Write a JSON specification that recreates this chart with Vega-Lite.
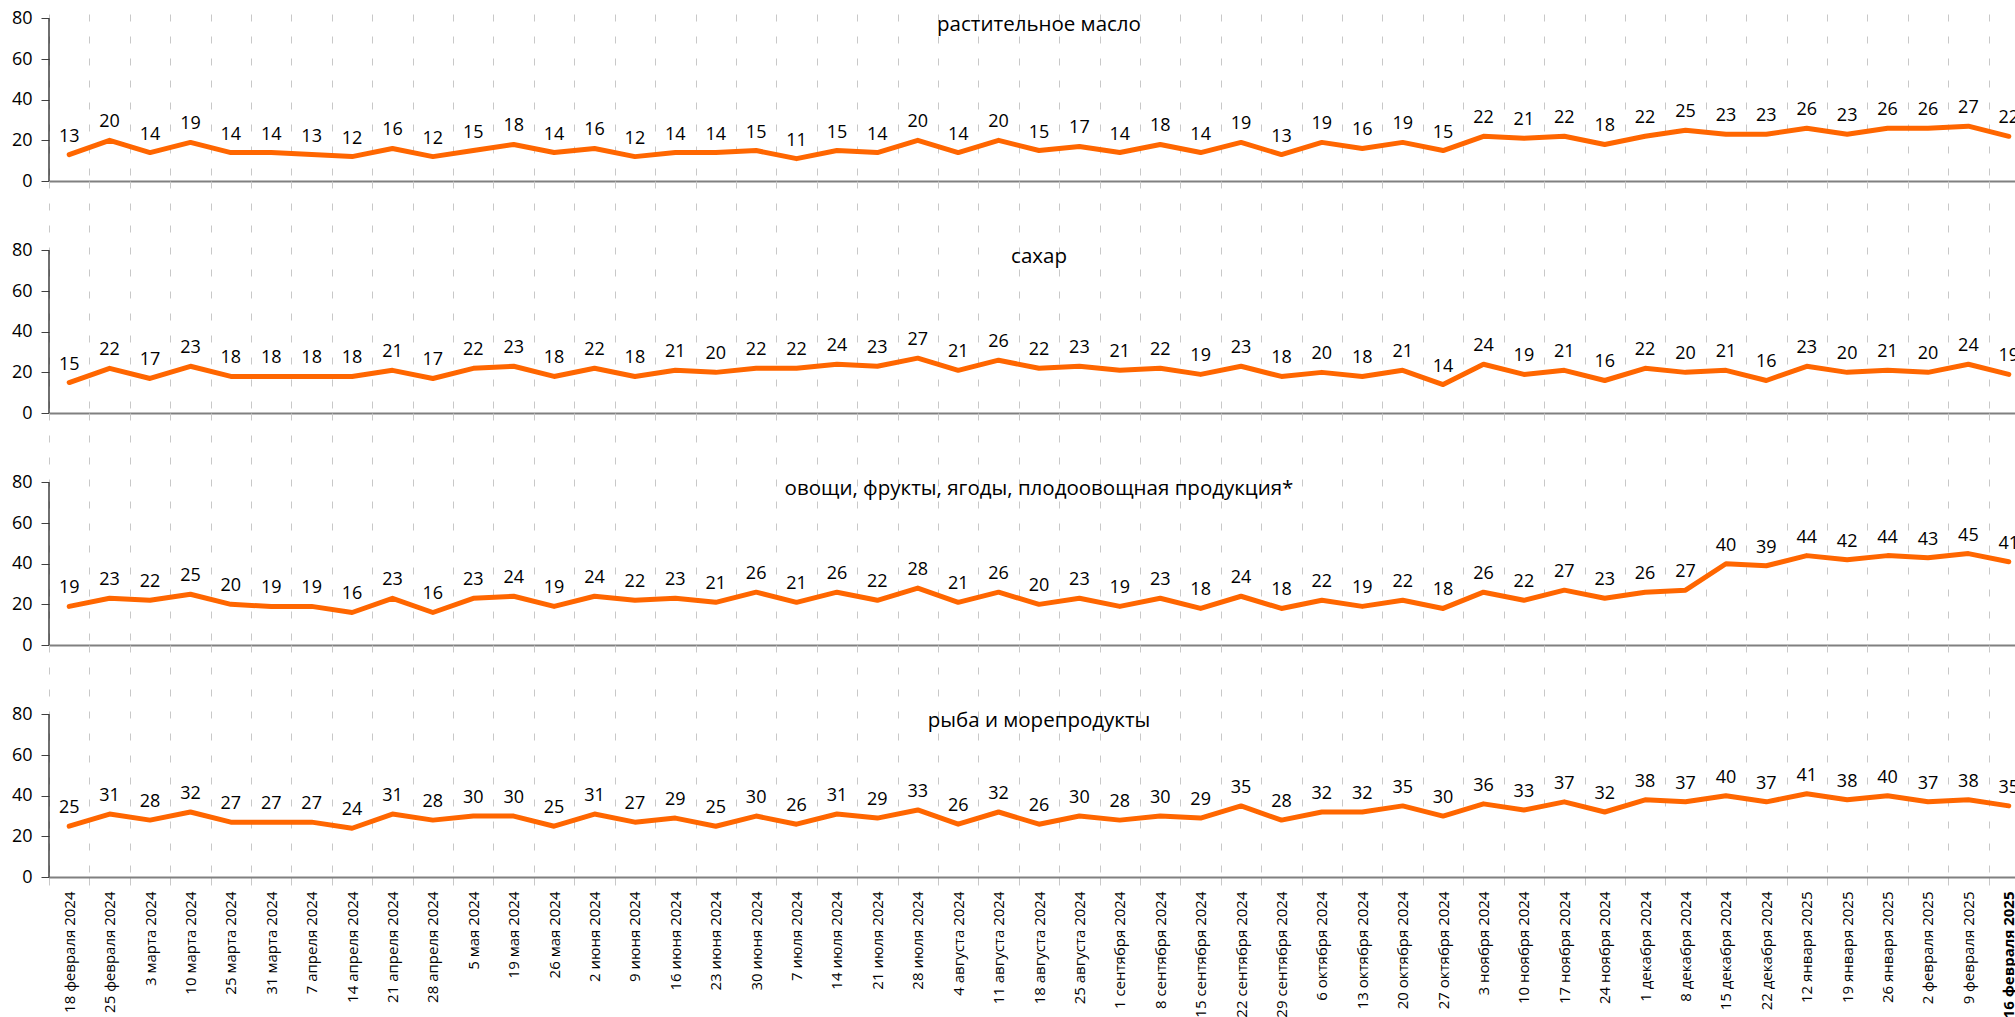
{
  "$schema": "https://vega.github.io/schema/vega-lite/v6.json",
  "background": "white",
  "padding": {"left": 11, "top": 9, "right": 0, "bottom": 0},
  "bounds": "flush",
  "spacing": 0,
  "config": {
    "view": {"stroke": null},
    "font": "Open Sans",
    "text": {"font": "Open Sans"}
  },
  "data": {
    "values": [
      {"d": "18 февраля 2024", "масло": 13, "сахар": 15, "овощи": 19, "рыба": 25},
      {"d": "25 февраля 2024", "масло": 20, "сахар": 22, "овощи": 23, "рыба": 31},
      {"d": "3 марта 2024", "масло": 14, "сахар": 17, "овощи": 22, "рыба": 28},
      {"d": "10 марта 2024", "масло": 19, "сахар": 23, "овощи": 25, "рыба": 32},
      {"d": "25 марта 2024", "масло": 14, "сахар": 18, "овощи": 20, "рыба": 27},
      {"d": "31 марта 2024", "масло": 14, "сахар": 18, "овощи": 19, "рыба": 27},
      {"d": "7 апреля 2024", "масло": 13, "сахар": 18, "овощи": 19, "рыба": 27},
      {"d": "14 апреля 2024", "масло": 12, "сахар": 18, "овощи": 16, "рыба": 24},
      {"d": "21 апреля 2024", "масло": 16, "сахар": 21, "овощи": 23, "рыба": 31},
      {"d": "28 апреля 2024", "масло": 12, "сахар": 17, "овощи": 16, "рыба": 28},
      {"d": "5 мая 2024", "масло": 15, "сахар": 22, "овощи": 23, "рыба": 30},
      {"d": "19 мая 2024", "масло": 18, "сахар": 23, "овощи": 24, "рыба": 30},
      {"d": "26 мая 2024", "масло": 14, "сахар": 18, "овощи": 19, "рыба": 25},
      {"d": "2 июня 2024", "масло": 16, "сахар": 22, "овощи": 24, "рыба": 31},
      {"d": "9 июня 2024", "масло": 12, "сахар": 18, "овощи": 22, "рыба": 27},
      {"d": "16 июня 2024", "масло": 14, "сахар": 21, "овощи": 23, "рыба": 29},
      {"d": "23 июня 2024", "масло": 14, "сахар": 20, "овощи": 21, "рыба": 25},
      {"d": "30 июня 2024", "масло": 15, "сахар": 22, "овощи": 26, "рыба": 30},
      {"d": "7 июля 2024", "масло": 11, "сахар": 22, "овощи": 21, "рыба": 26},
      {"d": "14 июля 2024", "масло": 15, "сахар": 24, "овощи": 26, "рыба": 31},
      {"d": "21 июля 2024", "масло": 14, "сахар": 23, "овощи": 22, "рыба": 29},
      {"d": "28 июля 2024", "масло": 20, "сахар": 27, "овощи": 28, "рыба": 33},
      {"d": "4 августа 2024", "масло": 14, "сахар": 21, "овощи": 21, "рыба": 26},
      {"d": "11 августа 2024", "масло": 20, "сахар": 26, "овощи": 26, "рыба": 32},
      {"d": "18 августа 2024", "масло": 15, "сахар": 22, "овощи": 20, "рыба": 26},
      {"d": "25 августа 2024", "масло": 17, "сахар": 23, "овощи": 23, "рыба": 30},
      {"d": "1 сентября 2024", "масло": 14, "сахар": 21, "овощи": 19, "рыба": 28},
      {"d": "8 сентября 2024", "масло": 18, "сахар": 22, "овощи": 23, "рыба": 30},
      {"d": "15 сентября 2024", "масло": 14, "сахар": 19, "овощи": 18, "рыба": 29},
      {"d": "22 сентября 2024", "масло": 19, "сахар": 23, "овощи": 24, "рыба": 35},
      {"d": "29 сентября 2024", "масло": 13, "сахар": 18, "овощи": 18, "рыба": 28},
      {"d": "6 октября 2024", "масло": 19, "сахар": 20, "овощи": 22, "рыба": 32},
      {"d": "13 октября 2024", "масло": 16, "сахар": 18, "овощи": 19, "рыба": 32},
      {"d": "20 октября 2024", "масло": 19, "сахар": 21, "овощи": 22, "рыба": 35},
      {"d": "27 октября 2024", "масло": 15, "сахар": 14, "овощи": 18, "рыба": 30},
      {"d": "3 ноября 2024", "масло": 22, "сахар": 24, "овощи": 26, "рыба": 36},
      {"d": "10 ноября 2024", "масло": 21, "сахар": 19, "овощи": 22, "рыба": 33},
      {"d": "17 ноября 2024", "масло": 22, "сахар": 21, "овощи": 27, "рыба": 37},
      {"d": "24 ноября 2024", "масло": 18, "сахар": 16, "овощи": 23, "рыба": 32},
      {"d": "1 декабря 2024", "масло": 22, "сахар": 22, "овощи": 26, "рыба": 38},
      {"d": "8 декабря 2024", "масло": 25, "сахар": 20, "овощи": 27, "рыба": 37},
      {"d": "15 декабря 2024", "масло": 23, "сахар": 21, "овощи": 40, "рыба": 40},
      {"d": "22 декабря 2024", "масло": 23, "сахар": 16, "овощи": 39, "рыба": 37},
      {"d": "12 января 2025", "масло": 26, "сахар": 23, "овощи": 44, "рыба": 41},
      {"d": "19 января 2025", "масло": 23, "сахар": 20, "овощи": 42, "рыба": 38},
      {"d": "26 января 2025", "масло": 26, "сахар": 21, "овощи": 44, "рыба": 40},
      {"d": "2 февраля 2025", "масло": 26, "сахар": 20, "овощи": 43, "рыба": 37},
      {"d": "9 февраля 2025", "масло": 27, "сахар": 24, "овощи": 45, "рыба": 38},
      {"d": "16 февраля 2025", "масло": 22, "сахар": 19, "овощи": 41, "рыба": 35}
    ]
  },
  "transform": [
    {"fold": ["масло", "сахар", "овощи", "рыба"], "as": ["p", "v"]}
  ],
  "vconcat": [
    {
      "width": 1980,
      "height": 167,
      "transform": [{"filter": "datum.p === 'масло'"}],
      "encoding": {
        "x": {
          "field": "d", "type": "ordinal", "sort": null,
          "scale": {"type": "band", "paddingInner": 0, "paddingOuter": 0},
          "axis": {
            "title": null, "labels": false, "ticks": false, "tickBand": "extent",
            "grid": true, "gridColor": "#c8c8c8", "gridDash": [7, 15], "gridWidth": 1,
            "domainColor": "#808080", "domainWidth": 2
          }
        },
        "y": {
          "field": "v", "type": "quantitative",
          "scale": {"domain": [0, 82.2], "nice": false, "zero": true},
          "axis": {
            "title": null, "values": [0, 20, 40, 60, 80], "domain": false, "grid": false,
            "tickSize": 8, "tickColor": "#404040", "labelPadding": 9,
            "labelFontSize": 18, "labelColor": "#000000", "labelFont": "Open Sans"
          }
        }
      },
      "layer": [
        {"mark": {"type": "line", "color": "#ff6600", "strokeWidth": 5, "strokeJoin": "round", "strokeCap": "round"}},
        {
          "mark": {"type": "text", "fontSize": 18, "color": "#000000", "baseline": "alphabetic", "dy": -13},
          "encoding": {
            "text": {"field": "v", "type": "quantitative"},
            "fontWeight": {"condition": {"test": "datum.d === '16 февраля 2025'", "value": "bold"}, "value": "normal"}
          }
        },
        {
          "transform": [{"filter": "datum.d === '18 августа 2024'"}],
          "mark": {"type": "text", "fontSize": 20.5, "color": "#000000", "baseline": "middle"},
          "encoding": {"y": {"datum": 77}, "text": {"value": "растительное масло"}}
        },
        {
          "transform": [{"filter": "datum.d === '18 февраля 2024'"}],
          "mark": {"type": "rule", "color": "#333333", "strokeWidth": 1.4},
          "encoding": {
            "x": {"field": "d", "type": "ordinal", "bandPosition": 0},
            "y": {"datum": 0},
            "y2": {"datum": 80}
          }
        }
      ]
    },
    {
      "width": 1980,
      "height": 232,
      "transform": [{"filter": "datum.p === 'сахар'"}],
      "encoding": {
        "x": {
          "field": "d", "type": "ordinal", "sort": null,
          "scale": {"type": "band", "paddingInner": 0, "paddingOuter": 0},
          "axis": {
            "title": null, "labels": false, "ticks": false, "tickBand": "extent",
            "grid": true, "gridColor": "#c8c8c8", "gridDash": [7, 15], "gridWidth": 1,
            "domainColor": "#808080", "domainWidth": 2
          }
        },
        "y": {
          "field": "v", "type": "quantitative",
          "scale": {"domain": [0, 114.2], "nice": false, "zero": true},
          "axis": {
            "title": null, "values": [0, 20, 40, 60, 80], "domain": false, "grid": false,
            "tickSize": 8, "tickColor": "#404040", "labelPadding": 9,
            "labelFontSize": 18, "labelColor": "#000000", "labelFont": "Open Sans"
          }
        }
      },
      "layer": [
        {"mark": {"type": "line", "color": "#ff6600", "strokeWidth": 5, "strokeJoin": "round", "strokeCap": "round"}},
        {
          "mark": {"type": "text", "fontSize": 18, "color": "#000000", "baseline": "alphabetic", "dy": -13},
          "encoding": {
            "text": {"field": "v", "type": "quantitative"},
            "fontWeight": {"condition": {"test": "datum.d === '16 февраля 2025'", "value": "bold"}, "value": "normal"}
          }
        },
        {
          "transform": [{"filter": "datum.d === '18 августа 2024'"}],
          "mark": {"type": "text", "fontSize": 20.5, "color": "#000000", "baseline": "middle"},
          "encoding": {"y": {"datum": 77}, "text": {"value": "сахар"}}
        },
        {
          "transform": [{"filter": "datum.d === '18 февраля 2024'"}],
          "mark": {"type": "rule", "color": "#333333", "strokeWidth": 1.4},
          "encoding": {
            "x": {"field": "d", "type": "ordinal", "bandPosition": 0},
            "y": {"datum": 0},
            "y2": {"datum": 80}
          }
        }
      ]
    },
    {
      "width": 1980,
      "height": 232,
      "transform": [{"filter": "datum.p === 'овощи'"}],
      "encoding": {
        "x": {
          "field": "d", "type": "ordinal", "sort": null,
          "scale": {"type": "band", "paddingInner": 0, "paddingOuter": 0},
          "axis": {
            "title": null, "labels": false, "ticks": false, "tickBand": "extent",
            "grid": true, "gridColor": "#c8c8c8", "gridDash": [7, 15], "gridWidth": 1,
            "domainColor": "#808080", "domainWidth": 2
          }
        },
        "y": {
          "field": "v", "type": "quantitative",
          "scale": {"domain": [0, 114.2], "nice": false, "zero": true},
          "axis": {
            "title": null, "values": [0, 20, 40, 60, 80], "domain": false, "grid": false,
            "tickSize": 8, "tickColor": "#404040", "labelPadding": 9,
            "labelFontSize": 18, "labelColor": "#000000", "labelFont": "Open Sans"
          }
        }
      },
      "layer": [
        {"mark": {"type": "line", "color": "#ff6600", "strokeWidth": 5, "strokeJoin": "round", "strokeCap": "round"}},
        {
          "mark": {"type": "text", "fontSize": 18, "color": "#000000", "baseline": "alphabetic", "dy": -13},
          "encoding": {
            "text": {"field": "v", "type": "quantitative"},
            "fontWeight": {"condition": {"test": "datum.d === '16 февраля 2025'", "value": "bold"}, "value": "normal"}
          }
        },
        {
          "transform": [{"filter": "datum.d === '18 августа 2024'"}],
          "mark": {"type": "text", "fontSize": 20.5, "color": "#000000", "baseline": "middle"},
          "encoding": {"y": {"datum": 77}, "text": {"value": "овощи, фрукты, ягоды, плодоовощная продукция*"}}
        },
        {
          "transform": [{"filter": "datum.d === '18 февраля 2024'"}],
          "mark": {"type": "rule", "color": "#333333", "strokeWidth": 1.4},
          "encoding": {
            "x": {"field": "d", "type": "ordinal", "bandPosition": 0},
            "y": {"datum": 0},
            "y2": {"datum": 80}
          }
        }
      ]
    },
    {
      "width": 1980,
      "height": 232,
      "transform": [{"filter": "datum.p === 'рыба'"}],
      "encoding": {
        "x": {
          "field": "d", "type": "ordinal", "sort": null,
          "scale": {"type": "band", "paddingInner": 0, "paddingOuter": 0},
          "axis": {
            "title": null, "labels": true, "ticks": true, "tickBand": "extent",
            "tickSize": 8, "tickColor": "#c8c8c8",
            "grid": true, "gridColor": "#c8c8c8", "gridDash": [7, 15], "gridWidth": 1,
            "domainColor": "#808080", "domainWidth": 2,
            "labelAngle": -90, "labelPadding": 6, "labelFontSize": 15, "labelColor": "#000000",
            "labelFont": "Open Sans", "labelOverlap": false,
            "labelFontWeight": {"condition": {"test": "datum.value === '16 февраля 2025'", "value": "bold"}, "value": "normal"}
          }
        },
        "y": {
          "field": "v", "type": "quantitative",
          "scale": {"domain": [0, 114.2], "nice": false, "zero": true},
          "axis": {
            "title": null, "values": [0, 20, 40, 60, 80], "domain": false, "grid": false,
            "tickSize": 8, "tickColor": "#404040", "labelPadding": 9,
            "labelFontSize": 18, "labelColor": "#000000", "labelFont": "Open Sans"
          }
        }
      },
      "layer": [
        {"mark": {"type": "line", "color": "#ff6600", "strokeWidth": 5, "strokeJoin": "round", "strokeCap": "round"}},
        {
          "mark": {"type": "text", "fontSize": 18, "color": "#000000", "baseline": "alphabetic", "dy": -13},
          "encoding": {
            "text": {"field": "v", "type": "quantitative"},
            "fontWeight": {"condition": {"test": "datum.d === '16 февраля 2025'", "value": "bold"}, "value": "normal"}
          }
        },
        {
          "transform": [{"filter": "datum.d === '18 августа 2024'"}],
          "mark": {"type": "text", "fontSize": 20.5, "color": "#000000", "baseline": "middle"},
          "encoding": {"y": {"datum": 77}, "text": {"value": "рыба и морепродукты"}}
        },
        {
          "transform": [{"filter": "datum.d === '18 февраля 2024'"}],
          "mark": {"type": "rule", "color": "#333333", "strokeWidth": 1.4},
          "encoding": {
            "x": {"field": "d", "type": "ordinal", "bandPosition": 0},
            "y": {"datum": 0},
            "y2": {"datum": 80}
          }
        }
      ]
    }
  ]
}
